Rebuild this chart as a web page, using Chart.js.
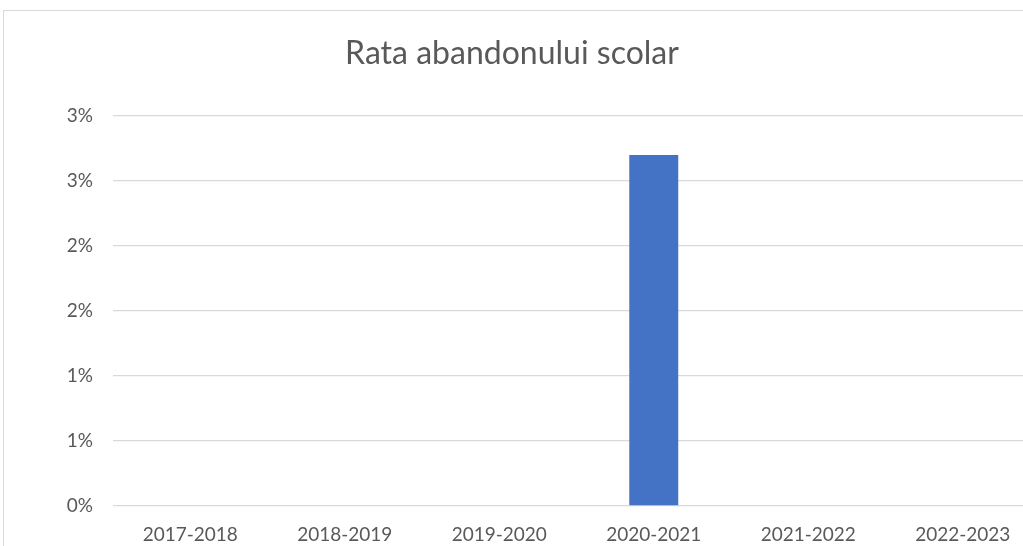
<!DOCTYPE html>
<html>
<head>
<meta charset="utf-8">
<script src="https://cdn.jsdelivr.net/npm/chart.js@4/dist/chart.umd.min.js"></script>
<style>
    body { margin: 0; width: 1023px; height: 546px; overflow: hidden; background: #fff; position: relative; }
    .frame { position: absolute; left: 3px; top: 10px; width: 1100px; height: 600px; border: 1px solid #d9d9d9; }
    .chart { position: absolute; left: -16px; top: 0; }
</style>
</head>
<body>
<div class="frame"></div>
<canvas class="chart" width="1072" height="560"></canvas>
<script>
const years = ['2017-2018', '2018-2019', '2019-2020', '2020-2021', '2021-2022', '2022-2023']
const dropoutRate = [0, 0, 0, 2.7, 0, 0]
const yTicks = [0, 0.5, 1, 1.5, 2, 2.5, 3]

renderChart()

function renderChart() {
    const c = document.getElementsByClassName('chart')[0]
    const ctx = c.getContext('2d')
    new Chart(ctx, {
        type: 'bar',
        data: {
            labels: years,
            datasets: [{
                label: 'Rata abandonului scolar',
                data: dropoutRate,
                backgroundColor: '#4472c4',
                borderWidth: 0,
                categoryPercentage: 1,
                barPercentage: 0.317
            }]
        },
        options: {
            responsive: false,
            animation: false,
            layout: { padding: { left: 0, right: 16, top: 0, bottom: 0 } },
            plugins: {
                legend: { display: false },
                tooltip: { enabled: false },
                title: {
                    display: true,
                    text: 'Rata abandonului scolar',
                    color: '#595959',
                    font: { family: 'Lato', size: 32, weight: 'normal' },
                    padding: { top: 34, bottom: 43.6 }
                }
            },
            scales: {
                x: {
                    grid: { display: false },
                    border: { display: false },
                    afterFit: (axis) => { axis.height = 54 },
                    ticks: { color: '#595959', font: { family: 'Lato', size: 19 }, padding: 9, maxRotation: 0 }
                },
                y: {
                    min: 0,
                    max: 3,
                    afterBuildTicks: (axis) => { axis.ticks = yTicks.map(v => ({ value: v })) },
                    afterFit: (axis) => { axis.width = 129 },
                    grid: { color: '#d9d9d9', lineWidth: 1.3, drawTicks: false },
                    border: { display: false },
                    ticks: {
                        color: '#595959',
                        font: { family: 'Lato', size: 19 },
                        padding: 20,
                        callback: (v) => Math.round(v) + '%'
                    }
                }
            }
        }
    })
}
</script>
</body>
</html>
